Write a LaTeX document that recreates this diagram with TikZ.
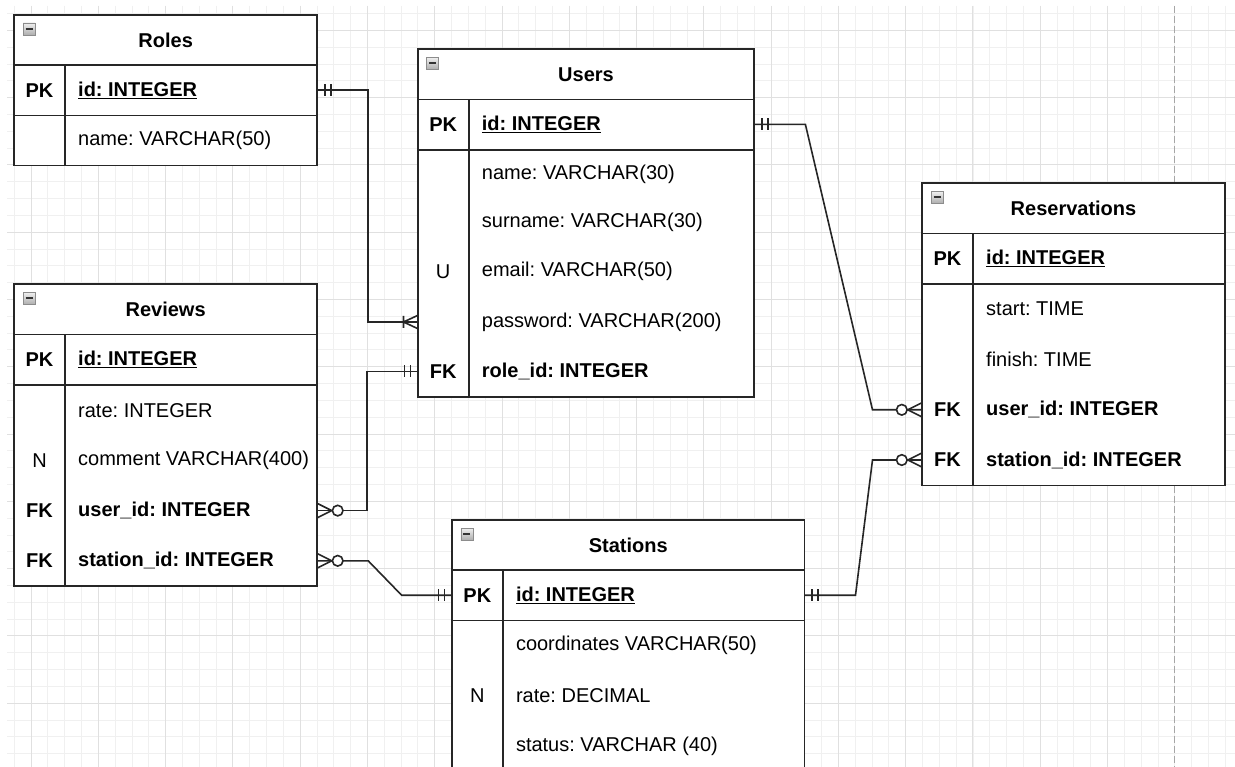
\documentclass[tikz,border=0pt]{standalone}
\usepackage{fontspec}
\setmainfont{Liberation Sans}
\usetikzlibrary{calc}

\tikzset{
  gridminor/.style={draw=black!6, line width=0.8pt},
  gridmajor/.style={draw=black!12, line width=0.9pt},
  pagebreak/.style={draw=black!35, line width=0.8pt, dash pattern=on 7pt off 3pt},
  frame/.style={draw=black!85, line width=1.7pt},
  conn/.style={draw=black!85, line width=1.6pt},
  titlecell/.style={font=\bfseries, inner sep=0pt},
  keycell/.style={minimum width=51pt, minimum height=48pt, inner sep=0pt},
  fieldcell/.style={anchor=west, inner xsep=13pt, inner ysep=0pt, minimum height=48pt},
  iconbox/.style={draw=black!45, line width=0.6pt, top color=black!6, bottom color=black!32},
  iconbar/.style={draw=black!80, line width=2pt},
}

% table frame: #1 name, #2 title, #3 left, #4 top, #5 width, #6 bottom
\newcommand\erframe[6]{%
  \draw[frame] (#3,#4) rectangle (#3+#5,#6);
  \draw[frame] (#3,#4+50.2) -- (#3+#5,#4+50.2)
               (#3,#4+100.4) -- (#3+#5,#4+100.4)
               (#3+51,#4+50.2) -- (#3+51,#6);
  \node[titlecell] (#1) at (#3+#5/2,#4+25.1) {#2};
  \draw[iconbox] (#3+9,#4+8) rectangle (#3+21,#4+20);
  \draw[iconbar] (#3+11.5,#4+14) -- (#3+18.5,#4+14);}

% table row: #1 name, #2 left, #3 y centre, #4 key, #5 field, #6 field box width
\newcommand\erow[6]{%
  \node[keycell] (#1k) at (#2+25.5,#3) {#4};
  \node[fieldcell] (#1) at (#2+51,#3) {\makebox[#6pt][l]{#5}};}

% end marks; #1 anchor on the table edge, #2 side (+1 right, -1 left)
\newcommand\ermandone[2]{%
  \draw[conn] ($(#1)+(#2*7,-6)$) -- ($(#1)+(#2*7,6)$)
              ($(#1)+(#2*13,-6)$) -- ($(#1)+(#2*13,6)$);}
\newcommand\eronemany[2]{%
  \draw[conn] ($(#1)+(#2*14,-6)$) -- ($(#1)+(#2*14,6)$)
              ($(#1)+(0,-6.5)$) -- ($(#1)+(#2*14,0)$) -- ($(#1)+(0,6.5)$);}
\newcommand\erzeromany[2]{%
  \draw[conn] ($(#1)+(0,-7)$) -- ($(#1)+(#2*14,0)$) -- ($(#1)+(0,7)$);
  \draw[conn, fill=white] ($(#1)+(#2*20,0)$) circle[radius=5.3pt];}

\begin{document}
\fontsize{20}{24}\selectfont\frenchspacing
\begin{tikzpicture}[x=1pt, y=-1pt]
\clip (0,0) rectangle (1235,767);
\fill[white] (0,0) rectangle (1235,767);

% background grid
\begin{scope}
  \clip (7,6) rectangle (1235,767);
  \foreach \i in {0,...,72} \draw[gridminor] ({14.2+16.82*\i},6) -- ({14.2+16.82*\i},767);
  \foreach \j in {0,...,45} \draw[gridminor] (7,{13.5+16.82*\j}) -- (1235,{13.5+16.82*\j});
  \foreach \i in {0,...,16} \draw[gridmajor] ({31+67.28*\i},6) -- ({31+67.28*\i},767);
  \foreach \j in {0,...,10} \draw[gridmajor] (7,{30.3+67.28*\j}) -- (1235,{30.3+67.28*\j});
  \draw[pagebreak] (1174.6,6) -- (1174.6,767);
\end{scope}

% Roles
\fill[white] (14,15) rectangle (317.3,165.6);
\erframe{roles}{Roles}{14}{15}{303.3}{165.6}
\erow{roles-id}{14}{90.3}{\textbf{PK}}{\textbf{\underline{id: INTEGER}}}{226.3}
\erow{roles-name}{14}{140.5}{}{name: VARCHAR(50)}{226.3}

% Users
\fill[white] (417.7,49.3) rectangle (754.3,397);
\erframe{users}{Users}{417.7}{49.3}{336.6}{397}
\erow{users-id}{417.7}{124.4}{\textbf{PK}}{\textbf{\underline{id: INTEGER}}}{259.6}
\erow{users-name}{417.7}{174}{}{name: VARCHAR(30)}{259.6}
\erow{users-surname}{417.7}{222.5}{}{surname: VARCHAR(30)}{259.6}
\erow{users-email}{417.7}{271.5}{U}{email: VARCHAR(50)}{259.6}
\erow{users-pass}{417.7}{322}{}{password: VARCHAR(200)}{259.6}
\erow{users-role}{417.7}{371.5}{\textbf{FK}}{\textbf{role\_id: INTEGER}}{259.6}

% Reviews
\fill[white] (14,284.3) rectangle (317.3,586.3);
\erframe{reviews}{Reviews}{14}{284.3}{303.3}{586.3}
\erow{reviews-id}{14}{359.5}{\textbf{PK}}{\textbf{\underline{id: INTEGER}}}{226.3}
\erow{reviews-rate}{14}{410.3}{}{rate: INTEGER}{226.3}
\erow{reviews-comment}{14}{460.5}{N}{comment VARCHAR(400)}{226.3}
\erow{reviews-user}{14}{510.6}{\textbf{FK}}{\textbf{user\_id: INTEGER}}{226.3}
\erow{reviews-station}{14}{560.8}{\textbf{FK}}{\textbf{station\_id: INTEGER}}{226.3}

% Reservations
\fill[white] (922,183.3) rectangle (1225,485.5);
\erframe{reservations}{Reservations}{922}{183.3}{303}{485.5}
\erow{reservations-id}{922}{258.5}{\textbf{PK}}{\textbf{\underline{id: INTEGER}}}{226}
\erow{reservations-start}{922}{309}{}{start: TIME}{226}
\erow{reservations-finish}{922}{359.3}{}{finish: TIME}{226}
\erow{reservations-user}{922}{409.8}{\textbf{FK}}{\textbf{user\_id: INTEGER}}{226}
\erow{reservations-station}{922}{460}{\textbf{FK}}{\textbf{station\_id: INTEGER}}{226}

% Stations
\fill[white] (451.8,520) rectangle (804.6,771);
\erframe{stations}{Stations}{451.8}{520}{352.8}{771}
\erow{stations-id}{451.8}{595.2}{\textbf{PK}}{\textbf{\underline{id: INTEGER}}}{275.8}
\erow{stations-coord}{451.8}{645.5}{}{coordinates VARCHAR(50)}{275.8}
\erow{stations-rate}{451.8}{695.8}{N}{rate: DECIMAL}{275.8}
\erow{stations-status}{451.8}{746}{}{status: VARCHAR (40)}{275.8}

% relationships
\draw[conn] (roles-id.east) -- ++(50,0) |- (users-passk.west);
\ermandone{roles-id.east}{1}
\eronemany{users-passk.west}{-1}

\draw[conn] (users-rolek.west) -- ++(-50.5,0) |- (reviews-user.east);
\ermandone{users-rolek.west}{-1}
\erzeromany{reviews-user.east}{1}

\draw[conn] (reviews-station.east) -- ++(50.5,0)
  -- ($(stations-idk.west)+(-50,0)$) -- (stations-idk.west);
\erzeromany{reviews-station.east}{1}
\ermandone{stations-idk.west}{-1}

\draw[conn] (stations-id.east) -- ++(50.5,0)
  -- ($(reservations-stationk.west)+(-49.3,0)$) -- (reservations-stationk.west);
\ermandone{stations-id.east}{1}
\erzeromany{reservations-stationk.west}{-1}

\draw[conn] (users-id.east) -- ++(50.7,0)
  -- ($(reservations-userk.west)+(-49.3,0)$) -- (reservations-userk.west);
\ermandone{users-id.east}{1}
\erzeromany{reservations-userk.west}{-1}
\end{tikzpicture}
\end{document}
